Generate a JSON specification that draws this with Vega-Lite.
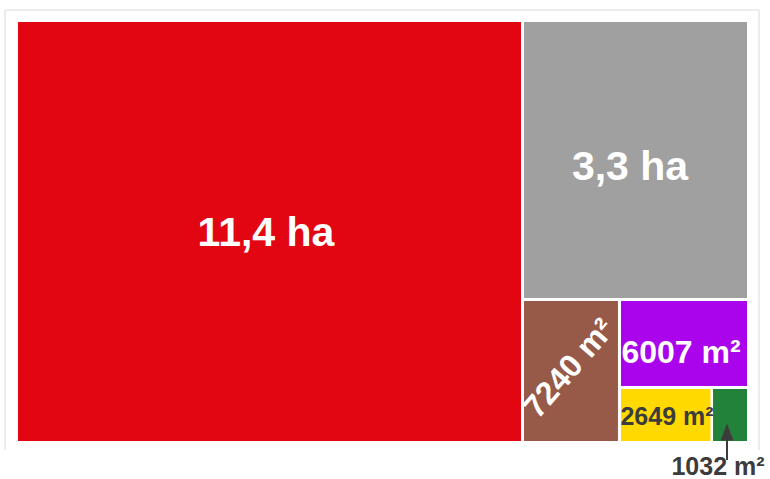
{
  "$schema": "https://vega.github.io/schema/vega-lite/v6.json",
  "width": 729,
  "height": 419,
  "autosize": {"type": "none"},
  "padding": {"left": 18, "top": 22, "right": 23, "bottom": 38},
  "background": "white",
  "config": {"view": {"stroke": null}, "text": {"font": "Liberation Sans", "fontWeight": "bold"}},
  "datasets": {
    "areas": [
      {"name": "A", "value": 114000, "x0": 0, "x1": 69.0, "y0": 0, "y1": 100},
      {"name": "B", "value": 33000, "x0": 69.41, "x1": 100, "y0": 0, "y1": 65.87},
      {"name": "C", "value": 7240, "x0": 69.41, "x1": 82.3, "y0": 66.59, "y1": 100},
      {"name": "D", "value": 6007, "x0": 82.72, "x1": 100, "y0": 66.59, "y1": 86.87},
      {"name": "E", "value": 2649, "x0": 82.72, "x1": 94.99, "y0": 87.59, "y1": 100},
      {"name": "F", "value": 1032, "x0": 95.34, "x1": 100, "y0": 87.59, "y1": 100}
    ],
    "labels": [
      {"name": "A", "label": "11,4 ha", "lx": 34.02, "ly": 53.46},
      {"name": "B", "label": "3,3 ha", "lx": 83.95, "ly": 37.71},
      {"name": "C", "label": "7240 m²", "lx": 75.65, "ly": 82.7},
      {"name": "D", "label": "6007 m²", "lx": 90.95, "ly": 81.38},
      {"name": "E", "label": "2649 m²", "lx": 89.03, "ly": 96.18},
      {"name": "F", "label": "1032 m²", "lx": 96.02, "ly": 108.11}
    ],
    "frame": [
      {"side": "left", "fx": -1.78, "fx2": -1.78, "fy": -2.86, "fy2": 102.15},
      {"side": "top", "fx": -1.78, "fx2": 101.65, "fy": -2.86, "fy2": -2.86},
      {"side": "right", "fx": 101.65, "fx2": 101.65, "fy": -2.86, "fy2": 102.15}
    ],
    "arrow": [
      {"ax": 97.26, "ay": 99.76, "ay2": 104.53, "tip": 97.85}
    ]
  },
  "layer": [
    {
      "data": {"name": "frame"},
      "mark": {"type": "rule", "color": "#e6e6e6", "strokeWidth": 1.5},
      "encoding": {
        "x": {"field": "fx", "type": "quantitative", "scale": {"domain": [0, 100], "nice": false, "zero": false}, "axis": null},
        "x2": {"field": "fx2"},
        "y": {"field": "fy", "type": "quantitative", "scale": {"domain": [0, 100], "nice": false, "zero": false, "reverse": true}, "axis": null},
        "y2": {"field": "fy2"}
      }
    },
    {
      "data": {"name": "areas"},
      "mark": {"type": "rect"},
      "encoding": {
        "x": {"field": "x0", "type": "quantitative"},
        "x2": {"field": "x1"},
        "y": {"field": "y0", "type": "quantitative"},
        "y2": {"field": "y1"},
        "color": {
          "field": "name", "type": "nominal", "legend": null,
          "scale": {"domain": ["A", "B", "C", "D", "E", "F"], "range": ["#e20613", "#a0a0a0", "#985a48", "#aa04ec", "#ffd900", "#23823a"]}
        }
      }
    },
    {
      "data": {"name": "labels"},
      "transform": [{"filter": "datum.name === 'A' || datum.name === 'B'"}],
      "mark": {"type": "text", "color": "white", "fontSize": 41, "align": "center", "baseline": "alphabetic"},
      "encoding": {
        "x": {"field": "lx", "type": "quantitative"},
        "y": {"field": "ly", "type": "quantitative"},
        "text": {"field": "label"}
      }
    },
    {
      "data": {"name": "labels"},
      "transform": [{"filter": "datum.name === 'D'"}],
      "mark": {"type": "text", "color": "white", "fontSize": 32, "align": "center", "baseline": "alphabetic"},
      "encoding": {
        "x": {"field": "lx", "type": "quantitative"},
        "y": {"field": "ly", "type": "quantitative"},
        "text": {"field": "label"}
      }
    },
    {
      "data": {"name": "labels"},
      "transform": [{"filter": "datum.name === 'C'"}],
      "mark": {"type": "text", "color": "white", "fontSize": 32, "align": "center", "baseline": "middle", "angle": 311},
      "encoding": {
        "x": {"field": "lx", "type": "quantitative"},
        "y": {"field": "ly", "type": "quantitative"},
        "text": {"field": "label"}
      }
    },
    {
      "data": {"name": "labels"},
      "transform": [{"filter": "datum.name === 'E' || datum.name === 'F'"}],
      "mark": {"type": "text", "color": "#3c3c3c", "fontSize": 25, "align": "center", "baseline": "alphabetic"},
      "encoding": {
        "x": {"field": "lx", "type": "quantitative"},
        "y": {"field": "ly", "type": "quantitative"},
        "text": {"field": "label"}
      }
    },
    {
      "data": {"name": "arrow"},
      "mark": {"type": "rule", "color": "#3c3c3c", "strokeWidth": 2},
      "encoding": {
        "x": {"field": "ax", "type": "quantitative"},
        "y": {"field": "ay", "type": "quantitative"},
        "y2": {"field": "ay2"}
      }
    },
    {
      "data": {"name": "arrow"},
      "mark": {"type": "point", "shape": "M-0.75,1L0,-1L0.75,1Z", "filled": true, "color": "#3c3c3c", "size": 289, "opacity": 1},
      "encoding": {
        "x": {"field": "ax", "type": "quantitative"},
        "y": {"field": "tip", "type": "quantitative"}
      }
    }
  ]
}
